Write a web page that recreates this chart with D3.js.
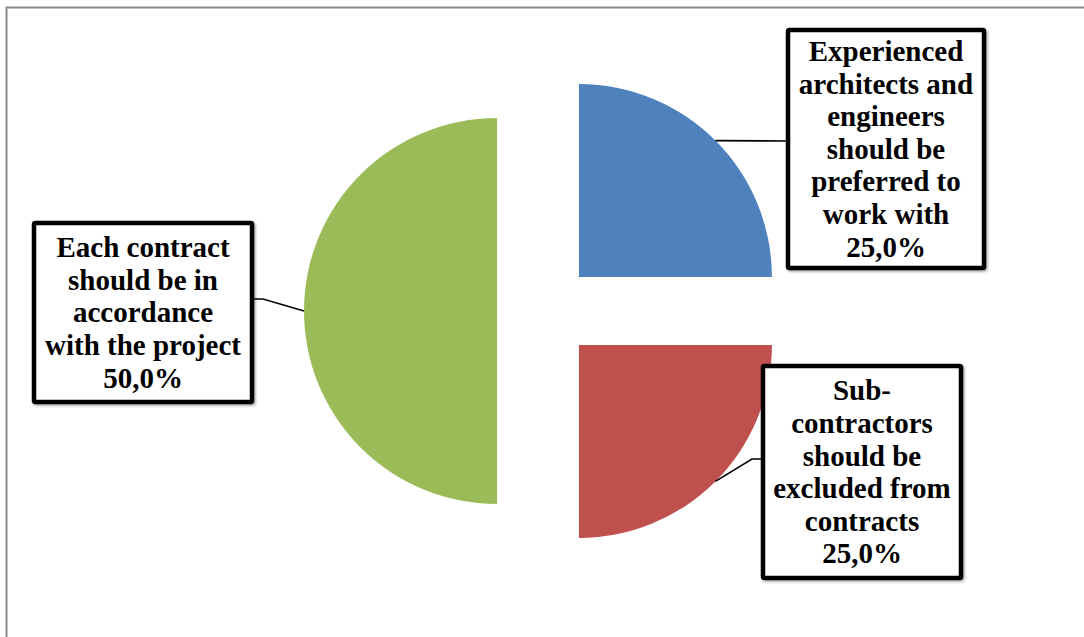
<!DOCTYPE html>
<html>
<head>
<meta charset="utf-8">
<script src="https://cdn.jsdelivr.net/npm/d3@7"></script>
<style>
  html, body { margin: 0; padding: 0; background: #fff; }
  svg { display: block; }
  .lbl { font-family: "Liberation Serif"; font-weight: bold; font-size: 29px; }
</style>
</head>
<body>
<svg id="chart" width="1084" height="637"></svg>
<script>
// Survey answers and their shares (%)
const categories = [
  "Experienced architects and engineers should be preferred to work with",
  "Sub-contractors should be excluded from contracts",
  "Each contract should be in accordance with the project"
];
const values = [25.0, 25.0, 50.0];
const colors = ["#4F81BD", "#C0504D", "#9BBB59"];
// Line breaks used inside each label box
const labelLines = [
  ["Experienced", "architects and", "engineers", "should be", "preferred to", "work with"],
  ["Sub-", "contractors", "should be", "excluded from", "contracts"],
  ["Each contract", "should be in", "accordance", "with the project"]
];

const fmt = v => v.toFixed(1).replace(".", ",") + "%";

const svg = d3.select("#chart");
const W = 1084, H = 637;

// chart area frame
svg.append("rect")
  .attr("x", 6.5).attr("y", 7.5)
  .attr("width", W + 20).attr("height", H + 20)
  .attr("fill", "#fff")
  .attr("stroke", "#8a8a8a")
  .attr("stroke-width", 2);

const defs = svg.append("defs");
const shadow = defs.append("filter").attr("id", "boxShadow")
  .attr("x", "-10%").attr("y", "-10%").attr("width", "130%").attr("height", "130%");
shadow.append("feDropShadow")
  .attr("dx", 1.5).attr("dy", 1.5).attr("stdDeviation", 1)
  .attr("flood-color", "#000").attr("flood-opacity", 0.35);

const cx = 545, cy = 311, radius = 193, explode = 48;

const pie = d3.pie().sort(null).value(d => d);
const arcs = pie(values);
const arc = d3.arc().innerRadius(0).outerRadius(radius);

const mid = a => (a.startAngle + a.endAngle) / 2;
const offset = (a, r) => [Math.sin(mid(a)) * r, -Math.cos(mid(a)) * r];

const g = svg.append("g").attr("transform", `translate(${cx},${cy})`);

g.selectAll("path.slice")
  .data(arcs)
  .join("path")
  .attr("class", "slice")
  .attr("transform", d => {
    const [dx, dy] = offset(d, explode);
    return `translate(${dx},${dy})`;
  })
  .attr("d", arc)
  .attr("fill", (d, i) => colors[i]);

// label boxes (left, top, right, bottom) and the point where the leader meets the box
const boxes = [
  { x0: 788, y0: 30, x1: 984, y1: 268, side: "left", ly: 141 },
  { x0: 763, y0: 366, x1: 961, y1: 578, side: "left", ly: 459 },
  { x0: 34, y0: 223, x1: 252, y1: 402, side: "right", ly: 299 }
];

const fontSize = 29, lineH = 32.6;

arcs.forEach((a, i) => {
  const b = boxes[i];
  const [ox, oy] = offset(a, explode + radius);
  const px = cx + ox, py = cy + oy;
  const bx = b.side === "left" ? b.x0 : b.x1;
  const kx = b.side === "left" ? bx - 11 : bx + 11;

  // leader line from slice edge to its label
  const pts = Math.abs(py - b.ly) < 2
    ? [[px, py], [bx, b.ly]]
    : [[px, py], [kx, b.ly], [bx, b.ly]];
  svg.append("path")
    .attr("d", d3.line()(pts))
    .attr("fill", "none")
    .attr("stroke", "#000")
    .attr("stroke-width", 1.6);

  svg.append("rect")
    .attr("x", b.x0).attr("y", b.y0)
    .attr("width", b.x1 - b.x0).attr("height", b.y1 - b.y0)
    .attr("rx", 1.5)
    .attr("fill", "#fff")
    .attr("stroke", "#000")
    .attr("stroke-width", 4.5)
    .attr("filter", "url(#boxShadow)");

  const lines = labelLines[i].concat([fmt(values[i])]);
  const n = lines.length;
  const tcx = (b.x0 + b.x1) / 2, tcy = (b.y0 + b.y1) / 2;
  const first = tcy - (n - 1) / 2 * lineH + fontSize * 0.34;
  const t = svg.append("text")
    .attr("class", "lbl")
    .attr("text-anchor", "middle")
    .attr("fill", "#000");
  lines.forEach((ln, j) => {
    t.append("tspan").attr("x", tcx).attr("y", first + j * lineH).text(ln);
  });
});
</script>
</body>
</html>
